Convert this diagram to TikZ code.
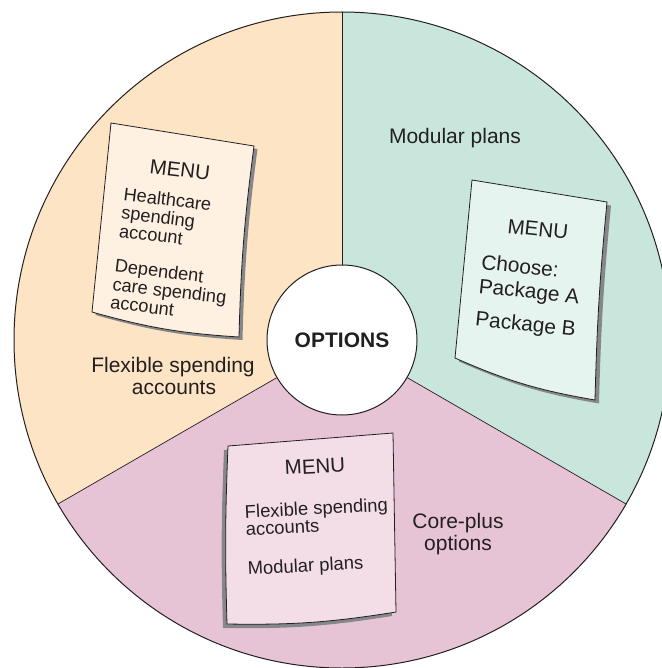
\documentclass[tikz,border=0pt]{standalone}
\usepackage{fontspec}
\setmainfont{Liberation Sans}
\definecolor{peach}{HTML}{FCE4C4}
\definecolor{mint}{HTML}{C9E6DC}
\definecolor{rose}{HTML}{E7C4D5}
\definecolor{paperA}{HTML}{FEF1E2}
\definecolor{paperB}{HTML}{E5F4EF}
\definecolor{paperC}{HTML}{F3DEE8}
\definecolor{shadowc}{HTML}{85878A}
\definecolor{inkc}{HTML}{231F20}
\begin{document}
\begin{tikzpicture}[x=1bp,y=1bp,
  txt/.style={inner sep=0pt, text=inkc},
  lab/.style={txt, font=\fontsize{21bp}{24bp}\selectfont, anchor=base},
  menuhead/.style={txt, font=\fontsize{20.5bp}{24bp}\selectfont, anchor=base west},
  items/.style={txt, align=left, anchor=north west},
  paperline/.style={draw=inkc, line width=0.8bp},
  rim/.style={draw=inkc, line width=1bp},
  divider/.style={draw=inkc, line width=0.7bp}]
\useasboundingbox (0,0) rectangle (662,-668);
\clip (0,0) rectangle (662,-668);
\coordinate (C) at (342,-340);
\def\R{328}
% sectors
\fill[peach] (C) -- ++(90:\R) arc[start angle=90,end angle=210,radius=\R] -- cycle;
\fill[mint] (C) -- ++(-30:\R) arc[start angle=-30,end angle=90,radius=\R] -- cycle;
\fill[rose] (C) -- ++(210:\R) arc[start angle=210,end angle=330,radius=\R] -- cycle;
\draw[rim] (C) circle[radius=\R];
\path (C) ++(90:\R) coordinate (e1);
\path (C) ++(210:\R) coordinate (e2);
\path (C) ++(330:\R) coordinate (e3);

% paper A (flexible spending accounts)
\def\paperApath{(111,-123) -- (254,-146) to[bend right=3] (239,-337) to[bend left=6] (92,-312) -- cycle}
\fill[shadowc, shift={(3.5,-3)}] \paperApath;
\filldraw[fill=paperA, paperline] \paperApath;
% paper B (modular plans)
\def\paperBpath{(472,-180) -- (607,-202) to[bend right=2] (595,-400) to[bend left=7] (455,-358) -- cycle}
\fill[shadowc, shift={(4,-3.5)}] \paperBpath;
\filldraw[fill=paperB, paperline] \paperBpath;
% paper C (core-plus)
\def\paperCpath{(228,-446) -- (393,-433) -- (396,-612) to[bend left=5] (227,-624) to[bend left=2] (228,-446) -- cycle}
\fill[shadowc, shift={(-4,-4)}] \paperCpath;
\filldraw[fill=paperC, paperline] \paperCpath;

% menu A texts
\node[menuhead, rotate=-7] (mA) at (149,-173) {MENU};
\node[items, rotate=-7, font=\fontsize{18.2bp}{18.5bp}\selectfont] (itA) at (124.6,-187.0)
  {Healthcare\\spending\\account\\[16.5bp]Dependent\\care spending\\account};
% menu B texts
\node[menuhead, rotate=-6] (mB) at (507,-233) {MENU};
\node[items, rotate=-6, font=\fontsize{20.8bp}{24bp}\selectfont] (itB) at (482.3,-254)
  {Choose:\\Package A\\[9bp]Package B};
% menu C texts
\node[menuhead, rotate=3] (mC) at (285,-475) {MENU};
\node[items, rotate=3, font=\fontsize{18.4bp}{17.5bp}\selectfont] (itC) at (244.3,-505)
  {Flexible spending\\accounts\\[21.5bp]Modular plans};

% sector labels
\node[lab] (lm) at (455,-143) {Modular plans};
\node[lab] (lf1) at (173,-372) {Flexible spending};
\node[lab] (lf2) at (174,-394) {accounts};
\node[lab] (lc1) at (458,-528) {Core-plus};
\node[lab] (lc2) at (458,-550) {options};

% centre
\node[circle, minimum size=150bp, inner sep=0pt, fill=white, draw=inkc, line width=1bp,
      text=inkc, font=\fontsize{21bp}{24bp}\selectfont\bfseries] (opt) at (C) {OPTIONS};
\draw[divider] (opt) -- (e1);
\draw[divider] (opt) -- (e2);
\draw[divider] (opt) -- (e3);
\end{tikzpicture}
\end{document}
